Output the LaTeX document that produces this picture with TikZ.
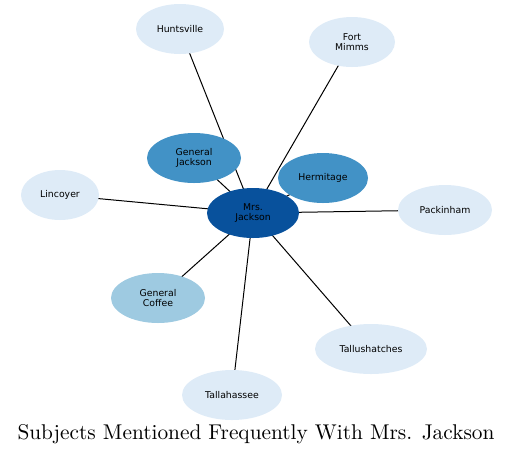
\documentclass[tikz,border=0pt]{standalone}
\usepackage{fontspec}
\newfontfamily\subjfont{DejaVu Sans}
\newfontfamily\titlefont{lmroman10-regular.otf}
\usepackage{xcolor}
\definecolor{hubblue}{HTML}{08519C}
\definecolor{midblue}{HTML}{4292C6}
\definecolor{lightblue}{HTML}{9ECAE1}
\definecolor{paleblue}{HTML}{DEEBF7}
\usepackage{tikz}
\usetikzlibrary{shapes.geometric,backgrounds}

\begin{document}
\begin{tikzpicture}[x=0.75pt, y=-0.75pt,
      subj/.style={ellipse, inner sep=0pt, align=center, font=\subjfont\fontsize{7}{8}\selectfont, minimum height=37.5pt},
      link/.style={draw=black, line width=0.75pt}
    ]
    \useasboundingbox (0,0) rectangle (513,455);
    \node[subj, fill=hubblue, minimum width=69pt] (mrs) at (253,213) {Mrs.\\Jackson};
    \node[subj, fill=midblue, minimum width=70.5pt] (genjack) at (194,158) {General\\Jackson};
    \node[subj, fill=midblue, minimum width=67.5pt] (hermit) at (323,178) {Hermitage};
    \node[subj, fill=lightblue, minimum width=70.5pt] (gencoff) at (158,298) {General\\Coffee};
    \node[subj, fill=paleblue, minimum width=66pt] (hunts) at (180,29) {Huntsville};
    \node[subj, fill=paleblue, minimum width=64.5pt] (fort) at (352,42) {Fort\\Mimms};
    \node[subj, fill=paleblue, minimum width=58.5pt] (linc) at (60,195) {Lincoyer};
    \node[subj, fill=paleblue, minimum width=70.5pt] (pack) at (445,210) {Packinham};
    \node[subj, fill=paleblue, minimum width=84pt] (tallu) at (371,349) {Tallushatches};
    \node[subj, fill=paleblue, minimum width=75pt] (talla) at (232,395) {Tallahassee};
    \node[font=\titlefont\fontsize{16}{19}\selectfont] (title) at (256,434) {Subjects Mentioned Frequently With Mrs. Jackson};
    \begin{pgfonlayer}{background}
      \foreach \other in {genjack,hermit,gencoff,hunts,fort,linc,pack,tallu,talla}
        \draw[link] (mrs.center) -- (\other.center);
    \end{pgfonlayer}
  \end{tikzpicture}
\end{document}
